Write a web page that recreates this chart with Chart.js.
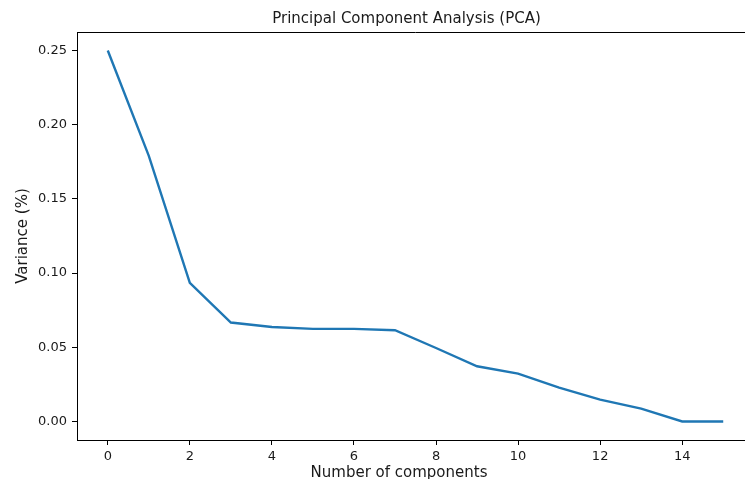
<!DOCTYPE html>
<html>
<head>
<meta charset="utf-8">
<title>PCA</title>
<script src="https://cdn.jsdelivr.net/npm/chart.js@4/dist/chart.umd.min.js"></script>
<style>
  html, body { margin: 0; padding: 0; background: #fff; overflow: hidden; }
  #wrap { width: 813px; height: 479px; }
</style>
</head>
<body>
<div id="wrap"><canvas id="chart-pca" width="813" height="479"></canvas></div>
<script>
// Varianza explicada por cada componente
var componentes = [0, 1, 2, 3, 4, 5, 6, 7, 8, 9, 10, 11, 12, 13, 14, 15];
var varianza = [0.25, 0.179, 0.0934, 0.0667, 0.0637, 0.0624, 0.0624, 0.0615,
                0.0495, 0.0372, 0.0322, 0.0228, 0.0147, 0.0086, 0.0, 0.0];

// Marcas de los ejes
var ticksX = [0, 2, 4, 6, 8, 10, 12, 14];
var ticksY = [0, 0.05, 0.10, 0.15, 0.20, 0.25];

var etiquetaX = 'Number of components';
var fuente = 'DejaVu Sans';
var colorTexto = '#1a1a1a';

// Marco superior y derecho, y etiqueta del eje X
var marco = {
  id: 'marco',
  afterDraw: function(chart) {
    var a = chart.chartArea;
    var ctx = chart.ctx;
    ctx.save();
    ctx.strokeStyle = '#000';
    ctx.lineWidth = 1;
    ctx.beginPath();
    ctx.moveTo(a.left, a.top + 0.5);
    ctx.lineTo(a.right, a.top + 0.5);
    ctx.lineTo(a.right, a.bottom);
    ctx.stroke();

    ctx.fillStyle = colorTexto;
    ctx.font = '15px "' + fuente + '"';
    ctx.textAlign = 'center';
    ctx.textBaseline = 'alphabetic';
    ctx.fillText(etiquetaX, a.left + 322, a.bottom + 37);
    ctx.restore();
  }
};

var puntos = componentes.map(function(c, i) { return { x: c, y: varianza[i] }; });

new Chart(document.getElementById('chart-pca'), {
  type: 'line',
  data: {
    datasets: [{
      data: puntos,
      borderColor: '#1f77b4',
      borderWidth: 2.4,
      tension: 0,
      pointRadius: 0,
      fill: false
    }]
  },
  options: {
    responsive: false,
    animation: false,
    events: [],
    plugins: {
      legend: { display: false },
      tooltip: { enabled: false },
      title: {
        display: true,
        text: 'Principal Component Analysis (PCA)',
        color: colorTexto,
        font: { family: fuente, size: 15, weight: 'normal', lineHeight: 1.2 },
        padding: { top: 10, bottom: 4 }
      }
    },
    scales: {
      x: {
        type: 'linear',
        min: -0.75,
        max: 15.75,
        afterBuildTicks: function(scale) {
          scale.ticks = ticksX.map(function(v) { return { value: v }; });
        },
        afterFit: function(scale) { scale.height = 39; },
        ticks: {
          color: colorTexto,
          font: { family: fuente, size: 13 },
          padding: 4,
          maxRotation: 0,
          callback: function(v) { return String(v); }
        },
        grid: {
          drawOnChartArea: false,
          drawTicks: true,
          tickLength: 5,
          tickColor: '#000'
        },
        border: { display: true, color: '#000', width: 1 }
      },
      y: {
        type: 'linear',
        min: -0.0125,
        max: 0.2625,
        afterBuildTicks: function(scale) {
          scale.ticks = ticksY.map(function(v) { return { value: v }; });
        },
        afterFit: function(scale) { scale.width = 77; },
        ticks: {
          color: colorTexto,
          font: { family: fuente, size: 13 },
          padding: 5,
          callback: function(v) { return v.toFixed(2); }
        },
        grid: {
          drawOnChartArea: false,
          drawTicks: true,
          tickLength: 5,
          tickColor: '#000'
        },
        border: { display: true, color: '#000', width: 1 },
        title: {
          display: true,
          text: 'Variance (%)',
          color: colorTexto,
          font: { family: fuente, size: 15, lineHeight: 1.2 },
          padding: { top: 14, bottom: 0 }
        }
      },
      // Eje vacío a la derecha: sólo reserva margen
      margen: {
        type: 'linear',
        position: 'right',
        afterFit: function(scale) { scale.width = 59; },
        ticks: { display: false },
        grid: { display: false },
        border: { display: false }
      }
    }
  },
  plugins: [marco]
});
</script>
</body>
</html>
